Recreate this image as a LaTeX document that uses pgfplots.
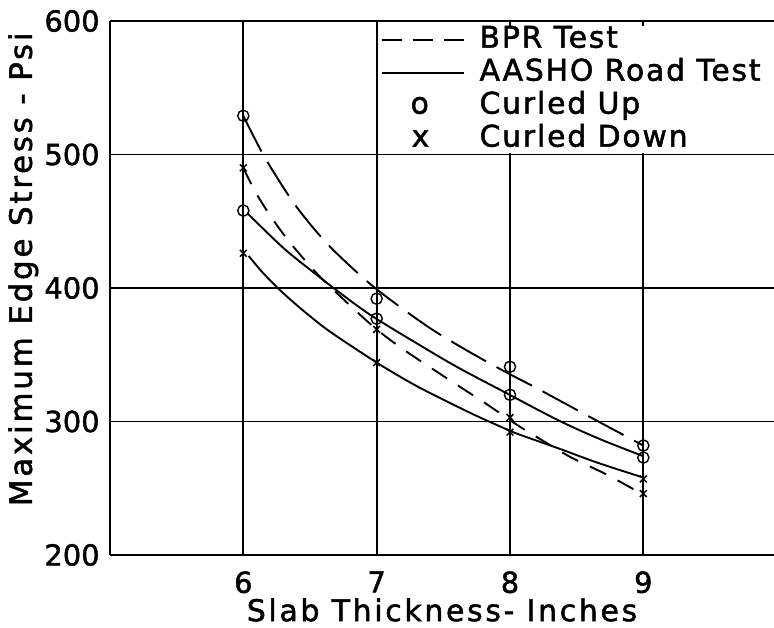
\documentclass[border=0pt]{standalone}
\usepackage{fontspec}
\setmainfont{DejaVu Sans}[FakeBold=1.6]
\newfontfamily\lblfont{DejaVu Sans}[LetterSpace=9, FakeBold=1.6]
\newfontfamily\legfont{DejaVu Sans}[LetterSpace=6, FakeBold=1.6]
\usepackage{pgfplots}
\pgfplotsset{compat=1.18}

\begin{document}
\begin{tikzpicture}
\useasboundingbox (0,0) rectangle (387bp,314bp);
\begin{axis}[
  at={(55bp,36.5bp)}, anchor=south west,
  scale only axis, width=332bp, height=267bp,
  xmin=5, xmax=9.98, ymin=200, ymax=600,
  xtick={6,7,8,9}, ytick={200,300,400,500,600},
  axis y line*=left,
  axis line style={black, line width=1bp},
  grid=major,
  major grid style={black, line width=0.95bp},
  major tick length=0pt,
  /pgf/number format/assume math mode=true,
  tick label style={font=\fontsize{14.5}{16}\selectfont},
  yticklabel style={inner sep=0pt, xshift=-5bp},
  xticklabel style={inner sep=0pt, yshift=-8bp},
  xlabel={Slab Thickness- Inches},
  ylabel={Maximum Edge Stress - Psi},
  xlabel style={at={(axis description cs:0.5,0)}, anchor=north, inner sep=0pt,
    yshift=-21.5bp, font=\lblfont\fontsize{15}{17}\selectfont},
  ylabel style={at={(axis description cs:-0.1657,0.535)}, anchor=north, inner sep=4bp,
    font=\lblfont\fontsize{15.5}{17}\selectfont},
  legend image code/.code={\draw[#1] (0bp,0bp) -- (41bp,0bp);},
  legend style={at={(axis cs:7.03,596.5)}, anchor=north west, draw=none, fill=white,
    inner sep=0pt, outer sep=0pt, row sep=2.5bp, column sep=7.5bp,
    font=\legfont\fontsize{15}{17}\selectfont,
    nodes={inner sep=0pt, text height=11bp, text depth=3bp}},
  legend cell align=left,
]

% BPR Test, curled up
\addplot[black, line width=0.95bp, dash pattern=on 20bp off 6bp, smooth, forget plot] coordinates {
  (6.00,529) (6.16,498) (6.39,462) (6.64,432) (6.94,404) (7.20,384)
  (7.43,368) (7.68,353) (7.95,338) (8.20,325) (8.44,312) (8.70,298) (9.00,282)
};
% AASHO Road Test, curled up
\addplot[black, line width=0.95bp, smooth, forget plot] coordinates {
  (6.03,456) (6.30,430) (6.51,413) (6.69,399) (6.95,380) (7.31,358)
  (7.60,341) (7.94,323) (8.36,301) (8.67,287) (9.00,274)
};
% BPR Test, curled down
\addplot[black, line width=0.95bp, dash pattern=on 9bp off 6.5bp, smooth, forget plot] coordinates {
  (6.00,490) (6.09,472) (6.21,453) (6.35,434) (6.56,410) (6.81,386)
  (7.00,369) (7.20,354) (7.44,338) (7.64,325) (7.84,312) (8.06,297)
  (8.29,283) (8.46,273) (8.69,262) (8.86,253) (9.00,245)
};
% AASHO Road Test, curled down
\addplot[black, line width=0.95bp, smooth, forget plot] coordinates {
  (6.04,424) (6.15,411) (6.29,397) (6.45,383) (6.64,368) (6.94,348)
  (7.05,341) (7.31,326) (7.69,307) (7.91,297) (8.05,291) (8.36,280)
  (8.66,269) (9.00,258)
};

% measured points
\addplot[only marks, mark=o, mark size=2.8bp, mark options={line width=0.7bp}, black, forget plot] coordinates {
  (6,529) (6,458) (7,392) (7,377) (8,341) (8,320) (9,282) (9,273)
};
\addplot[only marks, mark=x, mark size=2.4bp, mark options={line width=0.75bp}, black, forget plot] coordinates {
  (6,490) (6,426) (7,369) (7,344) (8,303) (8,292) (9,257) (9,246)
};

\addlegendimage{black, line width=0.95bp, dash pattern=on 10bp off 5.5bp}
\addlegendentry{BPR Test}
\addlegendimage{black, line width=0.95bp}
\addlegendentry{AASHO Road Test}
\addlegendimage{legend image code/.code={\path[draw=none] (0bp,0bp) -- (41bp,0bp);
  \node[draw=none, inner sep=0pt, font=\fontsize{15}{17}\selectfont] at (14.5bp,0bp) {o};}}
\addlegendentry{Curled Up}
\addlegendimage{legend image code/.code={\path[draw=none] (0bp,0bp) -- (41bp,0bp);
  \node[draw=none, inner sep=0pt, font=\fontsize{15}{17}\selectfont] at (15bp,0bp) {x};}}
\addlegendentry{Curled Down}

\end{axis}
\end{tikzpicture}
\end{document}
